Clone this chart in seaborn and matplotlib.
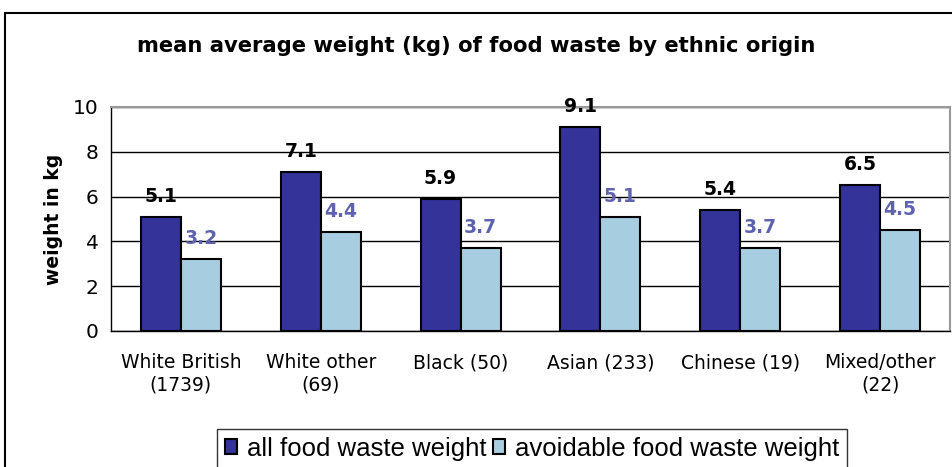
import matplotlib
matplotlib.use("Agg")
import matplotlib.pyplot as plt
import seaborn as sns
import pandas as pd
from matplotlib.patches import Rectangle

categories = ["White British\n(1739)", "White other\n(69)", "Black (50)", "Asian (233)", "Chinese (19)", "Mixed/other\n(22)"]
all_waste = [5.1, 7.1, 5.9, 9.1, 5.4, 6.5]
avoidable_waste = [3.2, 4.4, 3.7, 5.1, 3.7, 4.5]
series_names = ["all food waste weight", "avoidable food waste weight"]
title = "mean average weight (kg) of food waste by ethnic origin"
ylabel = "weight in kg"

df = pd.DataFrame({
    "category": categories * 2,
    "value": all_waste + avoidable_waste,
    "series": [series_names[0]] * len(categories) + [series_names[1]] * len(categories),
})

sns.set_style("white")
plt.rcParams["font.family"] = ["DejaVu Sans"]
plt.rcParams["text.color"] = "black"
plt.rcParams["axes.labelcolor"] = "black"
plt.rcParams["xtick.color"] = "black"
plt.rcParams["ytick.color"] = "black"

fig = plt.figure(figsize=(9.53, 4.67), dpi=100)
ax = fig.add_axes([111/953, 1-331/467, (950-111)/953, (331-107)/467])

dark = "#333399"
light = "#A6CDE0"
sns.barplot(data=df, x="category", y="value", hue="series", order=categories,
            hue_order=series_names, palette=[dark, light], width=80/140, saturation=1,
            edgecolor="black", linewidth=1.5, ax=ax, legend=True)

ax.set_ylim(0, 10)
ax.set_xlim(-0.5, len(categories) - 0.5)
ax.set_yticks([0, 2, 4, 6, 8, 10])
ax.yaxis.grid(True, color="black", linewidth=1)
ax.set_axisbelow(True)
ax.set_xticks([i - 0.5 for i in range(len(categories) + 1)], minor=False)
ax.set_xticklabels([])
ax.set_xticks(range(len(categories)), minor=True)
ax.set_xticklabels(categories, minor=True, fontsize=13.5, color="black")
ax.tick_params(axis="x", which="minor", length=0, pad=16)
ax.tick_params(axis="x", which="major", length=5, width=1, color="black", direction="out")
ax.tick_params(axis="y", length=5, width=1, color="black", direction="out", labelsize=14.5,
               pad=4, labelcolor="black")
ax.set_xlabel("")
ax.set_ylabel(ylabel, fontsize=13.5, fontweight="bold", labelpad=7, color="black")

for s in ["left", "bottom"]:
    ax.spines[s].set_color("black")
    ax.spines[s].set_linewidth(1)
for s in ["top", "right"]:
    ax.spines[s].set_color("#999999")
    ax.spines[s].set_linewidth(1.5)

for cont, col in zip(ax.containers, ["black", "#5F62AE"]):
    ax.bar_label(cont, labels=[f"{v:.1f}" for v in cont.datavalues], padding=8,
                 fontsize=13.5, fontweight="bold", color=col)

ax.get_legend().remove()
handles = [Rectangle((0, 0), 1, 1, facecolor=dark, edgecolor="black", linewidth=1.5),
           Rectangle((0, 0), 1, 1, facecolor=light, edgecolor="black", linewidth=1.5)]
leg = fig.legend(handles, series_names, loc="upper left", bbox_to_anchor=(217/953, 1-429/467),
                 ncol=2, prop={"family": "Liberation Sans", "size": 18.5}, frameon=True,
                 fancybox=False, edgecolor="black", labelcolor="black",
                 handlelength=0.47, handleheight=0.47, handletextpad=0.4, columnspacing=0.25,
                 borderpad=0.3, borderaxespad=0)
leg.get_frame().set_linewidth(1)

fig.text(0.5, 1-46/467, title, ha="center", va="center", fontsize=15.2, fontweight="bold",
         color="black")

fig.patches.append(Rectangle((5/953, -0.1), 1.0, 1-13/467+0.1, transform=fig.transFigure,
                             fill=False, edgecolor="black", linewidth=1.5))

fig.savefig("out.png", dpi=100)
